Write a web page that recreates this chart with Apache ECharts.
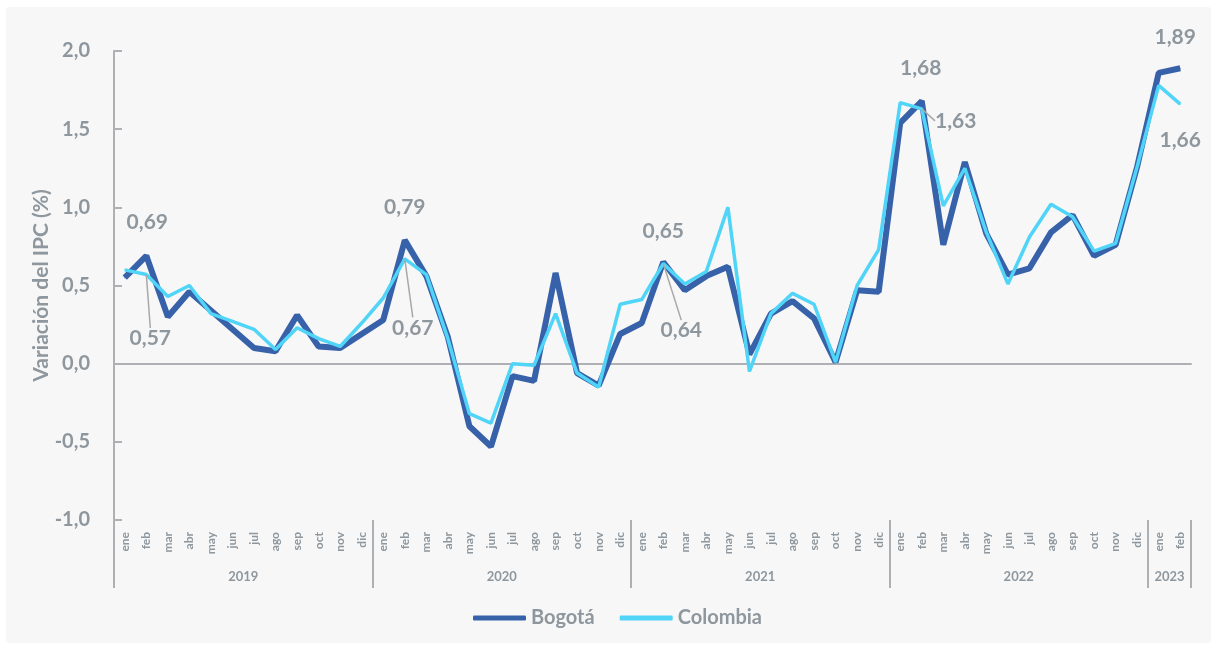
<!DOCTYPE html>
<html><head><meta charset="utf-8">
<script src="https://cdn.jsdelivr.net/npm/echarts@6/dist/echarts.min.js"></script>
<style>
html,body{margin:0;padding:0;background:#ffffff;}
#panel{position:absolute;left:6px;top:7px;width:1205px;height:636px;background:#f7f7f7;border-radius:3px;}
#chart{position:absolute;left:0;top:0;width:1217px;height:649px;}
</style></head><body>
<div id="panel"></div><div id="chart"></div>
<script>
const months = ['ene','feb','mar','abr','may','jun','jul','ago','sep','oct','nov','dic'];
const years = ['2019','2020','2021','2022','2023'];
const monthsPerYear = [12,12,12,12,2];
const bogota = [
  0.55,0.69,0.30,0.46,0.34,0.22,0.10,0.08,0.31,0.11,0.10,0.19,
  0.28,0.79,0.56,0.17,-0.40,-0.53,-0.08,-0.11,0.58,-0.06,-0.14,0.19,
  0.26,0.65,0.47,0.56,0.62,0.06,0.32,0.40,0.29,0.01,0.47,0.46,
  1.54,1.68,0.76,1.29,0.83,0.57,0.61,0.84,0.95,0.69,0.76,1.26,
  1.86,1.89
];
const colombia = [
  0.60,0.57,0.43,0.50,0.32,0.27,0.22,0.09,0.23,0.16,0.11,0.26,
  0.42,0.67,0.57,0.16,-0.32,-0.38,0.00,-0.01,0.32,-0.06,-0.15,0.38,
  0.41,0.64,0.51,0.59,1.00,-0.05,0.32,0.45,0.38,0.01,0.50,0.73,
  1.67,1.63,1.01,1.25,0.84,0.51,0.81,1.02,0.94,0.72,0.77,1.26,
  1.78,1.66
];
const bogotaLabeled = [1,13,25,37,49];
const colombiaLabeled = [1,13,25,37,49];

// build categories
const categories = [];
years.forEach((y,i)=>{ for(let m=0;m<monthsPerYear[i];m++) categories.push(months[m]+'-'+y); });
const boundaries = [0]; const mids = [];
monthsPerYear.forEach((n,i)=>{ const s = boundaries[boundaries.length-1]; mids.push(s + n/2); boundaries.push(s+n); });
mids[mids.length-1] = boundaries[boundaries.length-2] + 1;

// label offsets (layout only)
const labelOffsets = [
  {1:[1,-34],13:[0,-33],25:[0,-31],37:[-1,-33],49:[-5,-31]},
  {1:[4,64],13:[8,69],25:[18,67],37:[34,12],49:[0,36]}
];

const FONT = 'Lato';
const GRAY = '#8e979e';
const AXIS = '#aeb0b4';
const fmt2 = v => v.toFixed(2).replace('.',',');

function buildData(vals, labeled, noLine){
  return vals.map((v,i)=>{
    if(labeled.indexOf(i) < 0) return v;
    const item = {value:v, label:{show:true}};
    if(noLine && noLine.indexOf(i) >= 0) item.labelLine = {show:false};
    return item;
  });
}

const chart = echarts.init(document.getElementById('chart'));
const labelStyle = {show:false, position:'inside', fontFamily:FONT, fontSize:21, fontWeight:'bold', color:GRAY,
  formatter: p => fmt2(p.value)};

chart.setOption({
  animation:false,
  textStyle:{fontFamily:FONT},
  grid:{left:114, right:26, top:51, bottom:129},
  legend:{
    left:468, top:603, itemWidth:53, itemHeight:5, itemGap:25,
    textStyle:{fontFamily:FONT, fontSize:20, fontWeight:'bold', color:GRAY},
    data:[{name:'Bogotá', icon:'roundRect'},{name:'Colombia', icon:'roundRect'}]
  },
  xAxis:[
    {type:'category', data:categories, position:'bottom', boundaryGap:true,
      axisLine:{show:false, onZero:false}, axisTick:{show:false}, splitLine:{show:false},
      axisLabel:{rotate:90, interval:0, margin:12, fontFamily:FONT, fontSize:12, fontWeight:'bold', color:GRAY,
        formatter: v => v.split('-')[0]}},
    {type:'category', data:categories, position:'top', boundaryGap:true,
      axisLine:{show:true, onZero:true, onZeroAxisIndex:0, lineStyle:{color:AXIS, width:2}}, axisTick:{show:false},
      axisLabel:{show:false}, splitLine:{show:false}},
    {type:'value', min:0, max:boundaries[boundaries.length-1], position:'bottom',
      axisLine:{show:false, onZero:false}, splitLine:{show:false},
      axisTick:{show:true, customValues:boundaries, length:68, lineStyle:{color:AXIS, width:2}},
      axisLabel:{show:true, customValues:mids, margin:50, fontFamily:FONT, fontSize:13, fontWeight:'bold', color:GRAY,
        formatter: v => { const i = mids.indexOf(v); return i>=0 ? years[i] : ''; }}}
  ],
  yAxis:[{
    type:'value', min:-1, max:2, interval:0.5, position:'left',
    axisLine:{show:true, onZero:false, lineStyle:{color:AXIS, width:2}},
    axisTick:{show:true, inside:true, length:8, lineStyle:{color:AXIS, width:2}},
    splitLine:{show:false},
    axisLabel:{margin:24, fontFamily:FONT, fontSize:20, fontWeight:'bold', color:GRAY,
      formatter: v => v.toFixed(1).replace('.',',')}
  },{
    type:'value', min:-1, max:2, interval:0.5, position:'left',
    name:'Variación del IPC (%)', nameLocation:'middle', nameGap:62,
    nameTextStyle:{fontFamily:FONT, fontSize:21, fontWeight:'bold', color:GRAY},
    axisLine:{show:false, onZero:false}, axisTick:{show:false}, axisLabel:{show:false}, splitLine:{show:false}
  }],
  series:[
    {name:'Bogotá', type:'line', xAxisIndex:0, yAxisIndex:0, data:buildData(bogota, bogotaLabeled),
      symbol:'circle', symbolSize:1, showSymbol:true,
      lineStyle:{color:'#3762a9', width:6}, itemStyle:{color:'#3762a9'},
      label:labelStyle, labelLine:{show:false},
      labelLayout: p => { const o = labelOffsets[0][p.dataIndex]; return o ? {dx:o[0], dy:o[1]} : {}; },
      emphasis:{disabled:true}, z:2},
    {name:'Colombia', type:'line', xAxisIndex:0, yAxisIndex:0, data:buildData(colombia, colombiaLabeled, [49]),
      symbol:'circle', symbolSize:1, showSymbol:true,
      lineStyle:{color:'#50d4f7', width:3.5}, itemStyle:{color:'#50d4f7'},
      label:labelStyle, labelLine:{show:true, lineStyle:{color:'#a8a8a8', width:1.5}},
      labelLayout: p => { const o = labelOffsets[1][p.dataIndex]; return o ? {dx:o[0], dy:o[1]} : {}; },
      emphasis:{disabled:true}, z:3}
  ]
});
</script></body></html>
